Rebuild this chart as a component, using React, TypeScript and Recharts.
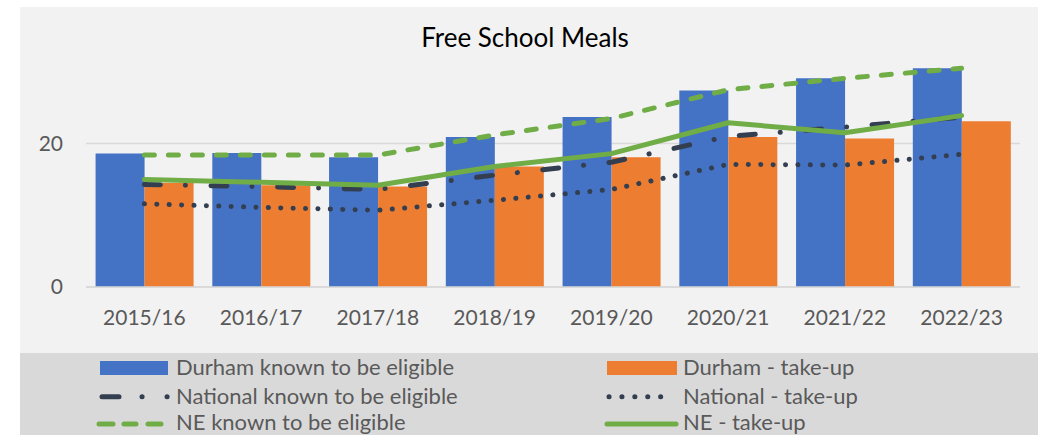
import { Bar, CartesianGrid, ComposedChart, Line, XAxis, YAxis } from 'recharts'

const categories = ['2015/16', '2016/17', '2017/18', '2018/19', '2019/20', '2020/21', '2021/22', '2022/23']
const durhamEligible = [18.6, 18.7, 18.1, 20.9, 23.7, 27.4, 29.1, 30.5]
const durhamTakeUp = [14.5, 14.2, 14.0, 16.8, 18.1, 20.9, 20.7, 23.1]
const nationalEligible = [14.3, 14.0, 13.6, 15.6, 17.4, 21.0, 22.3, 23.7]
const nationalTakeUp = [11.6, 11.1, 10.7, 12.1, 13.6, 17.1, 17.0, 18.5]
const neEligible = [18.4, 18.4, 18.4, 21.2, 23.5, 27.5, 29.1, 30.5]
const neTakeUp = [15.0, 14.6, 14.2, 16.8, 18.6, 22.9, 21.5, 23.9]
const yTicks = [0, 20]

const BLUE = '#4472C4'
const ORANGE = '#ED7D31'
const NAVY = '#333F50'
const GREEN = '#70AD47'
const GREY_TEXT = '#595959'
const GRID = '#D9D9D9'
const FONT = 'Lato, "Noto Sans", sans-serif'

const chartData = categories.map((name, i) => ({
  name,
  durhamEligible: durhamEligible[i],
  durhamTakeUp: durhamTakeUp[i],
  nationalEligible: nationalEligible[i],
  nationalTakeUp: nationalTakeUp[i],
  neEligible: neEligible[i],
  neTakeUp: neTakeUp[i],
}))

function ChartLegend() {
  const text = { fontFamily: FONT, fontSize: 22, fill: GREY_TEXT }
  return (
    <svg width={1018} height={82} style={{ position: 'absolute', left: 20, top: 353, display: 'block' }}>
      <g transform='translate(-20,-353)'>
        <rect x={100} y={361} width={68} height={14} fill={BLUE} />
        <text x={176} y={375} {...text}>Durham known to be eligible</text>
        <rect x={607} y={361} width={70} height={14} fill={ORANGE} />
        <text x={683} y={375} {...text}>Durham - take-up</text>

        <g stroke={NAVY} strokeWidth={5} strokeLinecap='round'>
          <line x1={102} y1={396.7} x2={119} y2={396.7} />
          <line x1={142} y1={396.7} x2={142.1} y2={396.7} />
          <line x1={167} y1={396.7} x2={167.1} y2={396.7} />
        </g>
        <text x={176} y={404} {...text}>National known to be eligible</text>
        <line x1={609} y1={396.7} x2={673} y2={396.7} stroke={NAVY} strokeWidth={5}
          strokeLinecap='round' strokeDasharray='0.1 12.8' />
        <text x={683} y={404} {...text}>National - take-up</text>

        <g stroke={GREEN} strokeWidth={5} strokeLinecap='round'>
          <line x1={99} y1={424} x2={113} y2={424} />
          <line x1={124} y1={424} x2={136} y2={424} />
          <line x1={148} y1={424} x2={161} y2={424} />
        </g>
        <text x={176} y={430} {...text}>NE known to be eligible</text>
        <line x1={607} y1={424} x2={676} y2={424} stroke={GREEN} strokeWidth={5} strokeLinecap='round' />
        <text x={683} y={430} {...text}>NE - take-up</text>
      </g>
    </svg>
  )
}

export default function App() {
  return (
    <div style={{ position: 'absolute', left: 0, top: 0, width: 1038, height: 435, background: '#FFFFFF', overflow: 'hidden' }}>
      <div style={{ position: 'absolute', left: 20, top: 7, width: 1018, height: 346, background: '#F2F2F2' }} />
      <div style={{ position: 'absolute', left: 20, top: 353, width: 1018, height: 82, background: GRID }} />
      <div style={{ position: 'absolute', left: 20, top: 7 }}>
        <ComposedChart
          width={1018}
          height={346}
          data={chartData}
          margin={{ top: 29, right: 18, bottom: 0, left: 0 }}
          barCategoryGap='8.2%'
          barGap={0}
        >
          <text x={505} y={39.7} textAnchor='middle' fontFamily={FONT} fontSize={26} fill='#000000'>
            Free School Meals
          </text>
          {/* syncWithTicks keeps the grid to 0 and 20 only, no line at the plot top */}
          <CartesianGrid vertical={false} stroke={GRID} strokeWidth={1.5} syncWithTicks />
          <XAxis
            dataKey='name'
            height={66}
            tickLine={false}
            tickSize={0}
            tickMargin={23}
            axisLine={{ stroke: GRID, strokeWidth: 1.5 }}
            tick={{ fill: GREY_TEXT, fontSize: 21, fontFamily: FONT }}
            interval={0}
          />
          <YAxis
            width={66}
            domain={[0, 35]}
            ticks={yTicks}
            tickLine={false}
            tickSize={0}
            tickMargin={23}
            axisLine={false}
            tick={{ fill: GREY_TEXT, fontSize: 21, fontFamily: FONT }}
          />
          <Bar dataKey='durhamEligible' fill={BLUE} isAnimationActive={false} />
          <Bar dataKey='durhamTakeUp' fill={ORANGE} isAnimationActive={false} />
          <Line dataKey='nationalEligible' stroke={NAVY} strokeWidth={5} strokeLinecap='round'
            strokeDasharray='16 25 0.1 25.5' dot={false} activeDot={false} isAnimationActive={false} />
          <Line dataKey='nationalTakeUp' stroke={NAVY} strokeWidth={5} strokeLinecap='round'
            strokeDasharray='0.1 12.3' dot={false} activeDot={false} isAnimationActive={false} />
          <Line dataKey='neEligible' stroke={GREEN} strokeWidth={5} strokeLinecap='round'
            strokeDasharray='10 14' dot={false} activeDot={false} isAnimationActive={false} />
          <Line dataKey='neTakeUp' stroke={GREEN} strokeWidth={5} strokeLinecap='round'
            strokeLinejoin='round' dot={false} activeDot={false} isAnimationActive={false} />
        </ComposedChart>
      </div>
      <ChartLegend />
    </div>
  )
}
